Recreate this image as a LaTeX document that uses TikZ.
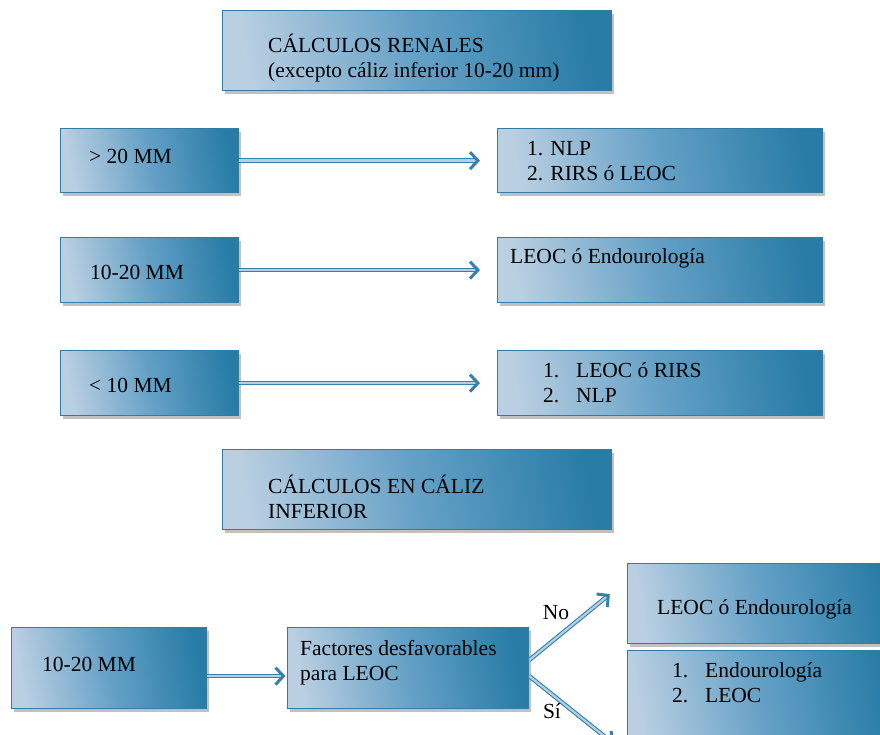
\documentclass[tikz,border=0pt]{standalone}
\usepackage{fontspec}
\setmainfont{Liberation Serif}
\usetikzlibrary{arrows.meta,shadows,calc,decorations.markings}
\definecolor{boxL}{RGB}{186,207,226}
\definecolor{boxM}{RGB}{100,160,198}
\definecolor{boxR}{RGB}{40,124,166}
\definecolor{edgeC}{RGB}{50,124,164}
\definecolor{arrD}{RGB}{52,130,172}
\definecolor{arrL}{RGB}{182,207,226}
\newcommand{\twolines}[2]{\begin{tabular}[t]{@{}l@{}}#1\\#2\end{tabular}}
\newcommand{\itm}[1]{\makebox[33pt][l]{#1}}
\begin{document}
\begin{tikzpicture}[x=1pt,y=-1pt,
  box/.style={draw=edgeC, line width=1.2pt, left color=boxL, right color=boxR, middle color=boxM,
    shading angle=100,
    anchor=north west, inner sep=0pt,
    drop shadow={shadow xshift=2pt, shadow yshift=-3pt, opacity=0.35, fill=black!70}},
  txt/.style={font=\fontsize{21.5}{25}\selectfont, anchor=base west, inner sep=0pt, text=black},
  conn/.style={draw=arrD, line width=1.1pt, double=arrL, double distance=2.2pt, shorten >=2.5pt,
    postaction={decorate},
    decoration={markings, mark=at position 1 with {\arrow{Straight Barb[length=8pt,width=17pt,line width=3pt,color=arrD]}}}},
]
\useasboundingbox (0,0) rectangle (880,735);
% boxes
\node[box, minimum width=389pt, minimum height=80pt] (top) at (222,10) {};
\node[box, minimum width=178pt, minimum height=64pt] (l1) at (60,128) {};
\node[box, minimum width=325pt, minimum height=64pt] (r1) at (497,128) {};
\node[box, minimum width=178pt, minimum height=65pt] (l2) at (60,237) {};
\node[box, minimum width=325pt, minimum height=65pt] (r2) at (497,237) {};
\node[box, minimum width=178pt, minimum height=65pt] (l3) at (60,350) {};
\node[box, minimum width=325pt, minimum height=65pt] (r3) at (497,350) {};
\node[box, minimum width=389pt, minimum height=80pt] (mid) at (222,449) {};
\node[box, minimum width=195pt, minimum height=81pt] (bl) at (11,627) {};
\node[box, minimum width=241pt, minimum height=81pt] (fac) at (287,627) {};
\node[box, minimum width=270pt, minimum height=80pt] (rt) at (627,563) {};
\node[box, minimum width=270pt, minimum height=110pt] (rb) at (627,650) {};
% texts
\node[txt] (ttop) at (268,53) {\twolines{CÁLCULOS RENALES}{(excepto cáliz inferior 10-20 mm)}};
\node[txt] (tl1) at (89,164) {> 20 MM};
\node[txt] (tr1) at (527,156) {\twolines{1. NLP}{2. RIRS ó LEOC}};
\node[txt] (tl2) at (90,279) {10-20 MM};
\node[txt] (tr2) at (510,264) {LEOC ó Endourología};
\node[txt] (tl3) at (89,392) {< 10 MM};
\node[txt] (tr3) at (543,377) {\twolines{\itm{1.}LEOC ó RIRS}{\itm{2.}NLP}};
\node[txt] (tmid) at (268,493) {\twolines{CÁLCULOS EN CÁLIZ}{INFERIOR}};
\node[txt] (tbl) at (42,671) {10-20 MM};
\node[txt] (tfac) at (300,655) {\twolines{Factores desfavorables}{para LEOC}};
\node[txt] (trt) at (657,614) {LEOC ó Endourología};
\node[txt] (trb) at (672,677) {\twolines{\itm{1.}Endourología}{\itm{2.}LEOC}};
% connectors
\draw[conn] (l1.east) -- ([xshift=-17pt]r1.west);
\draw[conn] (l2.east) -- ([xshift=-17pt]r2.west);
\draw[conn] (l3.east) -- ([xshift=-17pt]r3.west);
\draw[conn] ([yshift=-8pt]bl.east) -- ([yshift=-8pt,xshift=-1.5pt]fac.west);
\coordinate (noEnd) at (610,594);
\coordinate (siEnd) at (614,744);
\draw[conn] ([yshift=8pt]fac.east) -- (noEnd);
\draw[conn] ([yshift=-8pt]fac.east) -- (siEnd);
\node[txt, anchor=center] (lno) at (556,613) {No};
\node[txt, anchor=center] (lsi) at (552,711) {Sí};
\end{tikzpicture}
\end{document}
